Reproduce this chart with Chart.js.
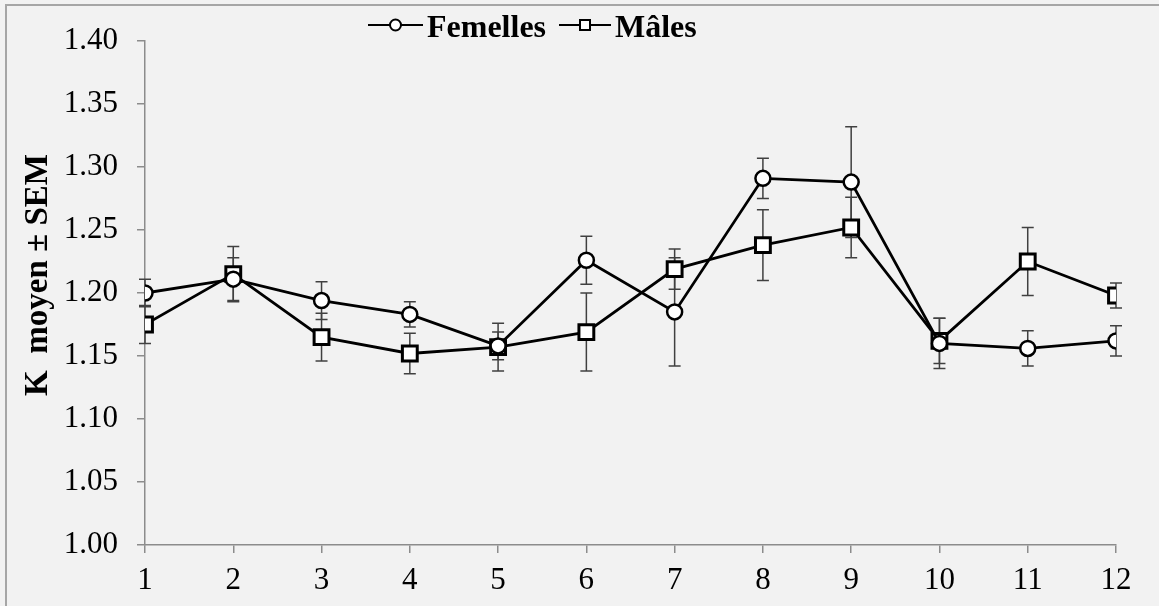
<!DOCTYPE html>
<html>
<head>
<meta charset="utf-8">
<script src="https://cdn.jsdelivr.net/npm/chart.js@4/dist/chart.umd.min.js"></script>
<style>
  html, body { margin: 0; padding: 0; background: #f2f2f2; }
  #wrap { width: 1159px; height: 606px; position: relative; }
</style>
</head>
<body>
<div id="wrap"><canvas id="c" width="1159" height="606"></canvas></div>
<script>
// Sampling points (x axis)
const points = [1, 2, 3, 4, 5, 6, 7, 8, 9, 10, 11, 12];

// Mean condition factor K, females
const femelles = [1.200, 1.211, 1.194, 1.183, 1.158, 1.226, 1.185, 1.291, 1.288, 1.160, 1.156, 1.162];
const femellesSEM = [0.011, 0.017, 0.015, 0.010, 0.011, 0.019, 0.043, 0.016, 0.044, 0.020, 0.014, 0.012];

// Mean condition factor K, males
const males = [1.175, 1.215, 1.165, 1.152, 1.157, 1.169, 1.219, 1.238, 1.252, 1.162, 1.225, 1.198];
const malesSEM = [0.015, 0.022, 0.019, 0.016, 0.019, 0.031, 0.016, 0.028, 0.024, 0.018, 0.027, 0.010];

// Y axis tick values
const yTicks = [1.00, 1.05, 1.10, 1.15, 1.20, 1.25, 1.30, 1.35, 1.40];

const seriesNames = ['Femelles', 'Mâles'];
const yTitle = 'K  moyen ± SEM';
const serif = '"Liberation Serif", "Times New Roman", serif';

function toXY(vals) { return points.map((p, i) => ({ x: p, y: vals[i] })); }

// Background and frame
const backdrop = {
  id: 'backdrop',
  beforeDraw(chart) {
    const ctx = chart.ctx;
    ctx.save();
    ctx.fillStyle = '#f2f2f2';
    ctx.fillRect(0, 0, chart.width, chart.height);
    ctx.strokeStyle = '#a6a6a6';
    ctx.lineWidth = 2;
    ctx.beginPath();
    ctx.moveTo(6, chart.height + 2);
    ctx.lineTo(6, 5);
    ctx.lineTo(chart.width + 2, 5);
    ctx.stroke();
    ctx.restore();
  }
};

// Vertical SEM bars with caps
const errorBars = {
  id: 'errorBars',
  beforeDatasetsDraw(chart) {
    const ctx = chart.ctx;
    const xs = chart.scales.x, ys = chart.scales.y;
    const sems = [femellesSEM, malesSEM];
    const means = [femelles, males];
    ctx.save();
    ctx.strokeStyle = '#404040';
    ctx.lineWidth = 1.5;
    for (let s = 0; s < 2; s++) {
      points.forEach((p, i) => {
        const px = xs.getPixelForValue(p);
        const top = ys.getPixelForValue(means[s][i] + sems[s][i]);
        const bot = ys.getPixelForValue(means[s][i] - sems[s][i]);
        ctx.beginPath();
        ctx.moveTo(px, top); ctx.lineTo(px, bot);
        ctx.moveTo(px - 6, top); ctx.lineTo(px + 6, top);
        ctx.moveTo(px - 6, bot); ctx.lineTo(px + 6, bot);
        ctx.stroke();
      });
    }
    ctx.restore();
  }
};

// Rotated y axis title
const axisTitle = {
  id: 'axisTitle',
  afterDraw(chart) {
    const ctx = chart.ctx;
    ctx.save();
    ctx.translate(47, 275);
    ctx.rotate(-Math.PI / 2);
    ctx.font = 'bold 33px ' + serif;
    ctx.textAlign = 'center';
    ctx.textBaseline = 'alphabetic';
    ctx.fillStyle = '#000';
    ctx.fillText(yTitle, 0, 0);
    ctx.restore();
  }
};

// Legend above the plot: line, marker, bold name
const topLegend = {
  id: 'topLegend',
  afterDraw(chart) {
    const ctx = chart.ctx;
    const cy = 25;
    const items = [
      { x: 368, w: 55, name: seriesNames[0], style: 'circle' },
      { x: 559, w: 52, name: seriesNames[1], style: 'rect' }
    ];
    ctx.save();
    ctx.font = 'bold 32px ' + serif;
    ctx.textBaseline = 'alphabetic';
    items.forEach(it => {
      const mx = it.x + it.w / 2;
      ctx.strokeStyle = '#000';
      ctx.lineWidth = 2;
      ctx.beginPath();
      ctx.moveTo(it.x, cy); ctx.lineTo(it.x + it.w, cy);
      ctx.stroke();
      ctx.fillStyle = '#fff';
      ctx.beginPath();
      if (it.style === 'circle') {
        ctx.arc(mx, cy, 5.5, 0, Math.PI * 2);
      } else {
        ctx.rect(mx - 5, cy - 5, 10, 10);
      }
      ctx.fill(); ctx.stroke();
      ctx.fillStyle = '#000';
      ctx.fillText(it.name, it.x + it.w + 4, 37);
    });
    ctx.restore();
  }
};

new Chart(document.getElementById('c'), {
  type: 'line',
  data: {
    datasets: [
      {
        label: seriesNames[0],
        data: toXY(femelles),
        borderColor: '#000',
        borderWidth: 2.8,
        pointStyle: 'circle',
        pointRadius: 7.5,
        pointBorderWidth: 2.5,
        pointBackgroundColor: '#fff',
        pointBorderColor: '#000',
        tension: 0
      },
      {
        label: seriesNames[1],
        data: toXY(males),
        borderColor: '#000',
        borderWidth: 2.8,
        pointStyle: 'rect',
        pointRadius: 10.5,
        pointBorderWidth: 3,
        pointBackgroundColor: '#fff',
        pointBorderColor: '#000',
        tension: 0
      }
    ]
  },
  options: {
    responsive: false,
    animation: false,
    events: [],
    layout: { padding: { left: 0, right: 43, top: 41, bottom: 0 } },
    plugins: { legend: { display: false }, tooltip: { enabled: false } },
    scales: {
      x: {
        type: 'linear',
        min: 1, max: 12,
        afterBuildTicks(scale) { scale.ticks = points.map(v => ({ value: v })); },
        afterFit(scale) { scale.height = 61; },
        grid: { display: true, drawOnChartArea: false, drawTicks: true, tickLength: 8, color: '#8c8c8c', lineWidth: 1.5 },
        border: { display: true, color: '#8c8c8c', width: 1.5 },
        ticks: { color: '#000', font: { family: serif, size: 31 }, padding: 9, maxRotation: 0, autoSkip: false }
      },
      y: {
        min: 1.0, max: 1.4,
        afterBuildTicks(scale) { scale.ticks = yTicks.map(v => ({ value: v })); },
        afterFit(scale) { scale.width = 145; },
        grid: { display: true, drawOnChartArea: false, drawTicks: true, tickLength: 8, color: '#8c8c8c', lineWidth: 1.5 },
        border: { display: true, color: '#8c8c8c', width: 1.5 },
        ticks: { color: '#000', font: { family: serif, size: 31 }, padding: 19, callback: v => Number(v).toFixed(2) }
      }
    }
  },
  plugins: [backdrop, errorBars, axisTitle, topLegend]
});
</script>
</body>
</html>
